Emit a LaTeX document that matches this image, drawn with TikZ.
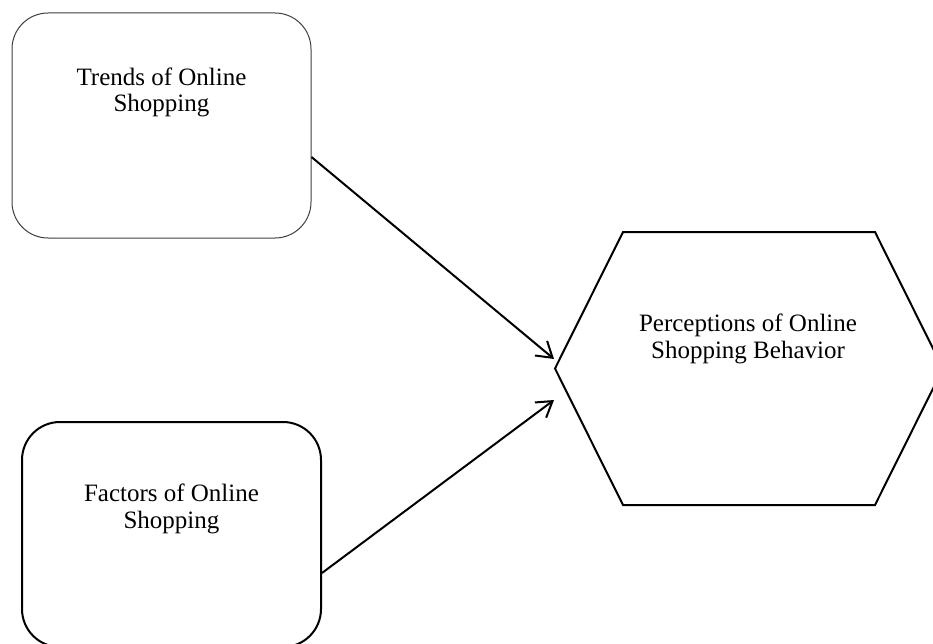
\documentclass[tikz,border=0pt]{standalone}
\usepackage{fontspec}
\setmainfont{Liberation Serif}
\usetikzlibrary{arrows.meta}
\begin{document}
\begin{tikzpicture}[x=1pt,y=-1pt,
  boxA/.style={draw=black!75,line width=1pt,rounded corners=36pt,minimum width=299pt,minimum height=225pt,inner sep=0pt},
  boxB/.style={draw=black,line width=2pt,rounded corners=38pt,minimum width=299pt,minimum height=225pt,inner sep=0pt},
  lbl/.style={align=center,font=\fontsize{25pt}{26.5pt}\selectfont,inner sep=0pt,anchor=base},
  conn/.style={line width=2pt,-{Straight Barb[length=15pt,width=19pt,line width=2pt]}}]
\useasboundingbox (0,0) rectangle (933,644);
\clip (0,0) rectangle (933,644);
\fill[white] (0,0) rectangle (933,644);
% boxes
\node[boxA] (trends) at (161.5,125.5) {};
\node[boxB] (factors) at (171.5,534.5) {};
% hexagon
\coordinate (h1) at (623,232);
\coordinate (h2) at (875,232);
\coordinate (h3) at (943,368.5);
\coordinate (h4) at (875,505);
\coordinate (h5) at (623,505);
\coordinate (h6) at (555,368.5);
\draw[line width=2pt,line join=miter] (h1) -- (h2) -- (h3) -- (h4) -- (h5) -- (h6) -- cycle;
% labels (anchor at baseline of last line)
\node[lbl] (trendsT) at (161.5,112) {Trends of Online\\Shopping};
\node[lbl] (factorsT) at (171.5,528) {Factors of Online\\Shopping};
\node[lbl] (percT) at (748,358) {Perceptions of Online\\Shopping Behavior};
% connectors
\coordinate (e1) at (554,359);
\coordinate (e2) at (554,400);
\draw[conn] (trends.east |- 0,157) -- (e1);
\draw[conn] (factors.east |- 0,573) -- (e2);
\end{tikzpicture}
\end{document}
